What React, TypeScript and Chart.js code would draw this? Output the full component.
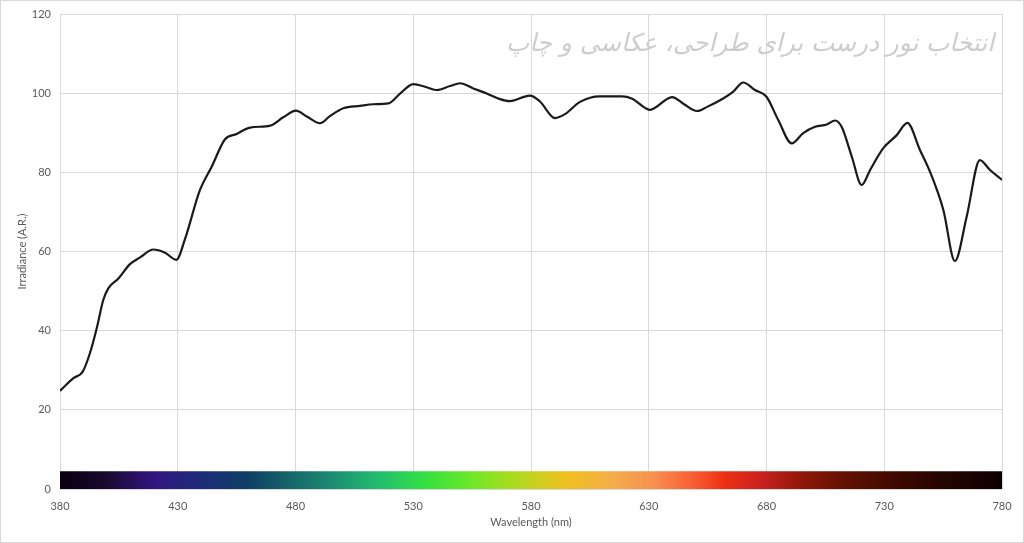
import React, { useEffect, useRef } from "react";
import { Chart, registerables } from "chart.js";

Chart.register(...registerables);

// Spectrum curve (wavelength in nm, irradiance in arbitrary units)
const wavelengths = [
  380, 385.7, 389.6, 392.7, 395.6, 398.4, 400.5, 404.8, 409.7, 414, 419.6, 424.6, 429.4,
  433, 439.4, 444.4, 450, 455, 460.7, 469.2, 474.8, 480.2, 484.8, 490.4, 494.6, 500.3,
  507.4, 513, 519.4, 524.4, 530, 535.7, 540, 545.6, 549.9, 555.5, 561.2, 566.8, 571,
  579.6, 583.8, 590.2, 594.4, 600.8, 609.3, 618.6, 623, 630.5, 639.9, 645, 650.5, 655,
  660.3, 665.9, 670.1, 675.1, 680, 685, 690.7, 695.6, 700.6, 705.6, 709.1, 711.9, 716.2,
  720.4, 724, 729.6, 735.3, 739.8, 745.2, 749.4, 755.1, 760, 765, 770.6, 774.9, 780,
];
const irradiance = [
  24.8, 28, 29.6, 34.3, 40.6, 47.8, 50.7, 53.2, 56.8, 58.5, 60.5, 59.7, 57.9,
  63, 75.5, 81.4, 88.3, 89.7, 91.3, 91.8, 93.9, 95.6, 94.1, 92.4, 94.2, 96.2,
  96.8, 97.2, 97.4, 99.9, 102.3, 101.5, 100.8, 101.8, 102.5, 101.2, 99.9, 98.5, 98,
  99.4, 97.9, 93.7, 94.7, 97.8, 99.2, 99.2, 98.6, 95.8, 99, 97.2, 95.5, 96.6,
  98.2, 100.4, 102.7, 100.8, 99.1, 93.2, 87.3, 89.9, 91.5, 92.1, 93.1, 91.5, 84,
  76.8, 80.6, 86.1, 89.4, 92.5, 85.6, 80.2, 70.5, 57.6, 68.8, 83.1, 80.6, 78.1,
];

// Visible-spectrum colour strip
const spectrumRange = [380, 780];
const spectrumHeight = 4.5;
const spectrumStops = [380, 400, 420, 440, 460, 475, 495, 515, 535, 555, 572, 595, 615, 632, 650, 662, 678, 695, 715, 738, 760, 780];
const spectrumColors = [
  "#08000e", "#1a0830", "#341580", "#1c2c78", "#0e3f66", "#15606a", "#1c8a72", "#22bd70",
  "#33e040", "#6ee828", "#aadc20", "#f0c020", "#f4ad4a", "#f89050", "#f85a32", "#ee3014",
  "#c82020", "#901808", "#601000", "#3a0800", "#200400", "#0e0000",
];

// Axis ticks
const xTicks = [380, 430, 480, 530, 580, 630, 680, 730, 780];
const yTicks = [0, 20, 40, 60, 80, 100, 120];

const watermark = "انتخاب نور درست برای طراحی، عکاسی و چاپ";

const FONT = "Lato, 'Open Sans', sans-serif";

export default function App() {
  const canvasRef = useRef<HTMLCanvasElement | null>(null);

  useEffect(() => {
    document.body.style.margin = "0";
    const canvas = canvasRef.current;
    if (!canvas) return;

    const watermarkPlugin = {
      id: "watermark",
      beforeDatasetsDraw(chart: any) {
        const { ctx, chartArea } = chart;
        ctx.save();
        ctx.fillStyle = "#cdcdcd";
        ctx.textAlign = "right";
        ctx.textBaseline = "middle";
        let size = 26;
        ctx.font = `italic 300 ${size}px 'DejaVu Sans'`;
        const w = ctx.measureText(watermark).width;
        const target = 488;
        size = size * (target / w);
        ctx.font = `italic 300 ${size}px 'DejaVu Sans'`;
        ctx.fillText(watermark, chartArea.right - 8, chartArea.top + 31);
        ctx.restore();
      },
    };

    const chart = new Chart(canvas, {
      type: "line",
      data: {
        datasets: [
          {
            label: "Irradiance",
            data: wavelengths.map((x, i) => ({ x, y: irradiance[i] })),
            borderColor: "#1a1a1a",
            borderWidth: 2.2,
            pointRadius: 0,
            cubicInterpolationMode: "monotone",
            fill: false,
            order: 0,
          },
          {
            label: "Spectrum",
            data: spectrumRange.map((x) => ({ x, y: spectrumHeight })),
            borderWidth: 0,
            borderColor: "rgba(0,0,0,0)",
            pointRadius: 0,
            fill: "origin",
            order: 1,
            backgroundColor: (ctx: any) => {
              const chart = ctx.chart;
              if (!chart.chartArea) return "rgba(0,0,0,0)";
              const xs = chart.scales.x;
              const x0 = xs.getPixelForValue(spectrumRange[0]);
              const x1 = xs.getPixelForValue(spectrumRange[1]);
              const g = chart.ctx.createLinearGradient(x0, 0, x1, 0);
              const span = spectrumRange[1] - spectrumRange[0];
              spectrumStops.forEach((nm, i) => g.addColorStop((nm - spectrumRange[0]) / span, spectrumColors[i]));
              return g;
            },
          },
        ],
      },
      options: {
        animation: false,
        responsive: false,
        maintainAspectRatio: false,
        layout: { padding: { top: 13, right: 21, bottom: 0, left: 0 } },
        plugins: {
          legend: { display: false },
          tooltip: { enabled: false },
        },
        scales: {
          x: {
            type: "linear",
            min: 380,
            max: 780,
            afterBuildTicks: (s: any) => {
              s.ticks = xTicks.map((v) => ({ value: v }));
            },
            afterFit: (s: any) => {
              s.height = 53;
              s.paddingLeft = 0;
              s.paddingRight = 0;
            },
            grid: { color: "#d9d9d9", lineWidth: 1, drawTicks: false },
            border: { display: false },
            ticks: { color: "#595959", font: { family: FONT, size: 11 }, padding: 11, maxRotation: 0, autoSkip: false },
            title: {
              display: true,
              text: "Wavelength (nm)",
              color: "#595959",
              font: { family: FONT, size: 11 },
              padding: { top: 0, bottom: 13 },
            },
          },
          y: {
            type: "linear",
            min: 0,
            max: 120,
            afterBuildTicks: (s: any) => {
              s.ticks = yTicks.map((v) => ({ value: v }));
            },
            afterFit: (s: any) => {
              s.width = 59;
              s.paddingTop = 0;
              s.paddingBottom = 0;
            },
            grid: { color: "#d9d9d9", lineWidth: 1, drawTicks: false },
            border: { display: false },
            ticks: { color: "#595959", font: { family: FONT, size: 11 }, padding: 9 },
            title: {
              display: true,
              text: "Irradiance (A.R.)",
              color: "#595959",
              font: { family: FONT, size: 11 },
              padding: { top: 15, bottom: 0 },
            },
          },
        },
      },
      plugins: [watermarkPlugin],
    } as any);

    return () => chart.destroy();
  }, []);

  return (
    <div
      style={{
        position: "absolute",
        left: 0,
        top: 0,
        width: 1024,
        height: 543,
        boxSizing: "border-box",
        border: "1px solid #d9d9d9",
        background: "#fff",
      }}
    >
      <canvas ref={canvasRef} width={1022} height={541} style={{ display: "block" }} />
    </div>
  );
}
